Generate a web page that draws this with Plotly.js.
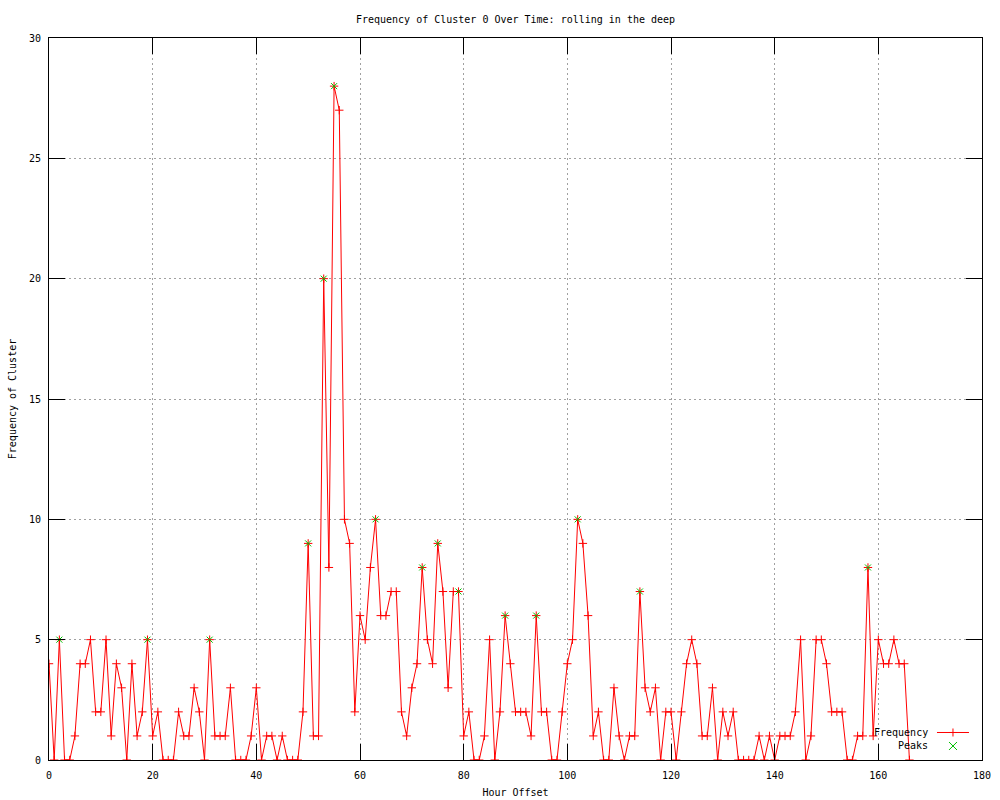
<!DOCTYPE html>
<html>
<head>
<meta charset="utf-8">
<script src="https://cdn.plot.ly/plotly-3.0.1.min.js"></script>
<style>html,body{margin:0;padding:0;background:#fff;}#chart{width:1000px;height:800px;}</style>
</head>
<body>
<div id="chart"></div>
<script>
// Hour offsets 0..166
const hours = [
  0,1,2,3,4,5,6,7,8,9,10,11,12,13,14,15,16,17,18,19,
  20,21,22,23,24,25,26,27,28,29,30,31,32,33,34,35,36,37,38,39,
  40,41,42,43,44,45,46,47,48,49,50,51,52,53,54,55,56,57,58,59,
  60,61,62,63,64,65,66,67,68,69,70,71,72,73,74,75,76,77,78,79,
  80,81,82,83,84,85,86,87,88,89,90,91,92,93,94,95,96,97,98,99,
  100,101,102,103,104,105,106,107,108,109,110,111,112,113,114,115,116,117,118,119,
  120,121,122,123,124,125,126,127,128,129,130,131,132,133,134,135,136,137,138,139,
  140,141,142,143,144,145,146,147,148,149,150,151,152,153,154,155,156,157,158,159,
  160,161,162,163,164,165,166
];
const frequency = [
  4,0,5,0,0,1,4,4,5,2,2,5,1,4,3,0,4,1,2,5,
  1,2,0,0,0,2,1,1,3,2,0,5,1,1,1,3,0,0,0,1,
  3,0,1,1,0,1,0,0,0,2,9,1,1,20,8,28,27,10,9,2,
  6,5,8,10,6,6,7,7,2,1,3,4,8,5,4,9,7,3,7,7,
  1,2,0,0,1,5,0,2,6,4,2,2,2,1,6,2,2,0,0,2,
  4,5,10,9,6,1,2,0,0,3,1,0,1,1,7,3,2,3,0,2,
  2,0,2,4,5,4,1,1,3,0,2,1,2,0,0,0,0,1,0,1,
  0,1,1,1,2,5,0,1,5,5,4,2,2,2,0,0,1,1,8,1,
  5,4,4,5,4,4,0
];
const peakHours = [2,19,31,50,53,55,63,72,75,79,88,94,102,114,158];
const peakValues = [5,5,5,9,20,28,10,8,9,7,6,6,10,7,8];

const xTicks = [0,20,40,60,80,100,120,140,160,180];
const yTicks = [0,5,10,15,20,25,30];

const legendNames = ["Frequency", "Peaks"];

const RED = "#ff0000";
const GREEN = "#00c000";
const FONT = "DejaVu Sans Mono, Liberation Mono, monospace";

const traces = [
  {
    x: hours, y: frequency, type: "scatter", mode: "lines+markers",
    name: legendNames[0],
    line: {color: RED, width: 1},
    marker: {symbol: "cross-thin-open", size: 6, color: RED, line: {color: RED, width: 1}},
    showlegend: false, hoverinfo: "x+y"
  },
  {
    x: peakHours, y: peakValues, type: "scatter", mode: "markers",
    name: legendNames[1],
    marker: {symbol: "x-thin-open", size: 6, color: GREEN, line: {color: GREEN, width: 1}},
    showlegend: false, hoverinfo: "x+y"
  }
];

// legend placement (paper coords of plot area)
const legTextX = 0.9443, legSampleX = 0.9689;
const legY = [0.0381, 0.0194];

const layout = {
  width: 1000, height: 800,
  paper_bgcolor: "#ffffff", plot_bgcolor: "#ffffff",
  margin: {l: 49, r: 18, t: 38, b: 40, pad: 0},
  font: {family: FONT, size: 10, color: "#000000"},
  showlegend: false,
  title: {
    text: "Frequency of Cluster 0 Over Time: rolling in the deep",
    font: {family: FONT, size: 10, color: "#000"},
    xref: "paper", x: 0.5, xanchor: "center",
    yref: "container", y: 1 - 19/800, yanchor: "middle"
  },
  xaxis: {
    range: [0, 180], tickvals: xTicks, ticktext: xTicks.map(String),
    ticks: "inside", ticklen: 16, tickwidth: 1, tickcolor: "#000",
    showline: true, linecolor: "#000", linewidth: 1, mirror: "allticks",
    showgrid: true, gridcolor: "#a0a0a0", gridwidth: 1, griddash: "2px,3px",
    zeroline: false, ticklabelstandoff: 6,
    tickfont: {family: FONT, size: 10, color: "#000"},
    title: {text: "Hour Offset", font: {family: FONT, size: 10, color: "#000"}, standoff: 8},
    automargin: false, fixedrange: true
  },
  yaxis: {
    range: [0, 30], tickvals: yTicks, ticktext: yTicks.map(String),
    ticks: "inside", ticklen: 16, tickwidth: 1, tickcolor: "#000",
    showline: true, linecolor: "#000", linewidth: 1, mirror: "allticks",
    showgrid: true, gridcolor: "#a0a0a0", gridwidth: 1, griddash: "2px,3px",
    zeroline: false, ticklabelstandoff: 5,
    tickfont: {family: FONT, size: 10, color: "#000"},
    title: {text: "Frequency of Cluster", font: {family: FONT, size: 10, color: "#000"}, standoff: 10},
    automargin: false, fixedrange: true
  },
  annotations: [
    {text: legendNames[0], xref: "paper", yref: "paper", x: legTextX, y: legY[0],
     xanchor: "right", yanchor: "middle", showarrow: false,
     font: {family: FONT, size: 10, color: "#000"}},
    {text: legendNames[1], xref: "paper", yref: "paper", x: legTextX, y: legY[1],
     xanchor: "right", yanchor: "middle", showarrow: false,
     font: {family: FONT, size: 10, color: "#000"}}
  ],
  shapes: [
    {type: "line", xref: "paper", yref: "paper", xsizemode: "pixel", ysizemode: "pixel",
     xanchor: legSampleX, yanchor: legY[0], x0: -16, x1: 16, y0: 0, y1: 0,
     line: {color: RED, width: 1}},
    {type: "path", xref: "paper", yref: "paper", xsizemode: "pixel", ysizemode: "pixel",
     xanchor: legSampleX, yanchor: legY[0], path: "M-4,0 L4,0 M0,-4 L0,4",
     line: {color: RED, width: 1}},
    {type: "path", xref: "paper", yref: "paper", xsizemode: "pixel", ysizemode: "pixel",
     xanchor: legSampleX, yanchor: legY[1], path: "M-4,-4 L4,4 M-4,4 L4,-4",
     line: {color: GREEN, width: 1}}
  ]
};

Plotly.newPlot("chart", traces, layout, {displayModeBar: false, staticPlot: true});
</script>
</body>
</html>
